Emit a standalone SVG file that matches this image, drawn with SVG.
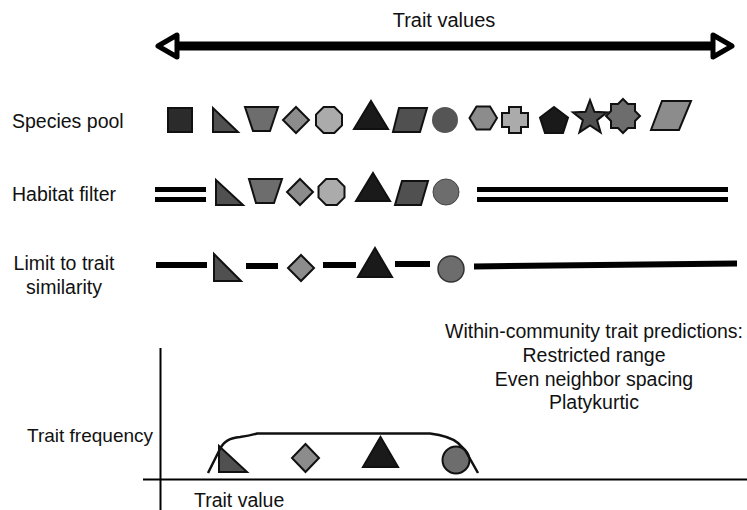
<svg xmlns="http://www.w3.org/2000/svg" width="747" height="510" viewBox="0 0 747 510">
<style>
text{font-family:"Liberation Sans",Arial,Helvetica,sans-serif;font-size:19.5px;fill:#111}
.s{stroke:#111;stroke-width:2;stroke-linejoin:miter}
.bar{fill:#000}
.c1{fill:#2b2b2b}.c2{fill:#505050}.c3{fill:#6d6d6d}.c4{fill:#8c8c8c}.c5{fill:#ababab}.c6{fill:#1a1a1a}
.ln{fill:none;stroke:#000;stroke-width:2}
</style>
<rect width="747" height="510" fill="#fff"/>

<g id="title">
<text x="444" y="27" text-anchor="middle" style="font-size:20px">Trait values</text>
<line x1="172" y1="46" x2="716" y2="46" stroke="#000" stroke-width="9"/>
<polygon points="158,46 177,35 177,57" fill="#fff" stroke="#000" stroke-width="5" stroke-linejoin="round"/>
<polygon points="732,46 713,35 713,57" fill="#fff" stroke="#000" stroke-width="5" stroke-linejoin="round"/>
</g>

<g id="labels">
<text x="12" y="128">Species pool</text>
<text x="12" y="201">Habitat filter</text>
<text x="64" y="270" text-anchor="middle">Limit to trait</text>
<text x="64" y="294" text-anchor="middle">similarity</text>
</g>

<g id="species-pool">
<rect class="s c1" x="168" y="108" width="24" height="24"/>
<polygon class="s c2" points="213,108 213,132 238,132"/>
<polygon class="s c3" points="245,107 278,107 270,131 253,131"/>
<polygon class="s c4" points="296,107 309,120 296,133 283,120"/>
<polygon class="s c5" points="342,114.6 342,125.4 334.4,133 323.6,133 316,125.4 316,114.6 323.6,107 334.4,107"/>
<polygon class="s c6" points="371,101 388,129 354,129"/>
<polygon class="s c2" points="399,108 427,108 420,132 393,132"/>
<circle cx="445" cy="120" r="13" fill="#555"/>
<polygon class="s c4" points="476.5,106.5 490,106.5 497,118 490,129.5 476.5,129.5 469.5,118"/>
<polygon class="s c5" points="509,107 521,107 521,113 528,113 528,127 521,127 521,133 509,133 509,127 502,127 502,113 509,113"/>
<polygon class="s c6" points="554,107 568,117.5 563,133 545,133 540,117.5"/>
<polygon class="s c2" points="590,100 594.4,111.8 607,112.4 597.1,120.2 600.6,132.4 590,125.4 579.4,132.4 582.9,120.2 573,112.4 585.6,111.8"/>
<polygon class="s c3" points="623,99 628,104 635,104 635,111 640,116 635,121 635,128 628,128 623,133 618,128 611,128 611,121 606,116 611,111 611,104 618,104"/>
<polygon class="s c4" points="662,101 691,101 679,130 651,130"/>
</g>

<g id="habitat-filter">
<rect class="bar" x="155" y="187" width="51" height="5"/>
<rect class="bar" x="155" y="197" width="51" height="5"/>
<polygon class="s c2" points="216,180 216,205 243,205"/>
<polygon class="s c3" points="249,179 282,179 274,203 256,203"/>
<polygon class="s c4" points="300,179 313,192 300,205 287,192"/>
<polygon class="s c5" points="344.5,186.6 344.5,197.4 336.9,205 326.1,205 318.5,197.4 318.5,186.6 326.1,179 336.9,179"/>
<polygon class="s c6" points="373,173 390,201 356,201"/>
<polygon class="s c2" points="402,181 428,181 421,205 395,205"/>
<circle cx="446" cy="192" r="13" fill="#6d6d6d" stroke="#444" stroke-width="1"/>
<rect class="bar" x="477" y="187" width="251" height="5"/>
<rect class="bar" x="477" y="197" width="251" height="5"/>
</g>

<g id="limit-similarity">
<line x1="156" y1="265" x2="207" y2="265" stroke="#000" stroke-width="6"/>
<polygon class="s c2" points="214,254 214,281 241,281"/>
<line x1="246" y1="266" x2="278" y2="266" stroke="#000" stroke-width="6"/>
<polygon class="s c4" points="301,255 314,268 301,281 288,268"/>
<line x1="323" y1="265" x2="356" y2="265" stroke="#000" stroke-width="6"/>
<polygon class="s c6" points="375,248 392,277 358,277"/>
<line x1="395" y1="264" x2="430" y2="264" stroke="#000" stroke-width="6"/>
<circle cx="451" cy="269" r="13" fill="#6d6d6d" stroke="#333" stroke-width="1.5"/>
<line x1="474" y1="266.5" x2="737" y2="263.5" stroke="#000" stroke-width="6"/>
</g>

<g id="predictions">
<text x="594" y="338" text-anchor="middle">Within-community trait predictions:</text>
<text x="594" y="362" text-anchor="middle">Restricted range</text>
<text x="594" y="386" text-anchor="middle">Even neighbor spacing</text>
<text x="594" y="409" text-anchor="middle">Platykurtic</text>
</g>

<g id="plot">
<line class="ln" x1="160.5" y1="348" x2="160.5" y2="510"/>
<line class="ln" x1="143" y1="479.5" x2="747" y2="479.5"/>
<text x="27" y="442" style="font-size:19px">Trait frequency</text>
<text x="194" y="507">Trait value</text>
<polygon class="s c2" points="219,446 219,472 247,472"/>
<polygon class="s c4" points="305.5,444 319,458 305.5,472 292,458"/>
<polygon class="s c6" points="380.5,437 398,467 363,467"/>
<circle cx="456" cy="460" r="13.5" fill="#6d6d6d" stroke="#111" stroke-width="2"/>
<path d="M208,473 L220,449 C224,441 230,438 240,437 C248,436 252,435 257,433.5 L430,433.5 C442,435 452,438 458,443 L465,450 L478,473" fill="none" stroke="#111" stroke-width="2.5"/>
</g>
</svg>
